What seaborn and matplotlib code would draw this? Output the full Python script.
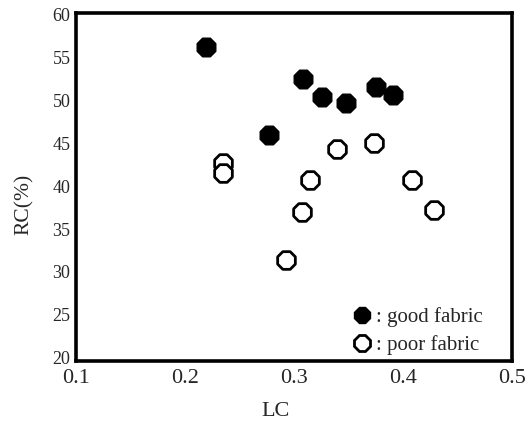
import numpy as np
import pandas as pd
import matplotlib
matplotlib.use("Agg")
import matplotlib.pyplot as plt
import matplotlib.transforms as mtransforms
import seaborn as sns
from matplotlib.lines import Line2D

# --- DATA ---
good_lc = [0.219, 0.277, 0.308, 0.326, 0.348, 0.375, 0.391]
good_rc = [56.5, 46.3, 52.8, 50.7, 50.0, 51.9, 50.9]

poor_lc = [0.235, 0.235, 0.293, 0.307, 0.315, 0.339, 0.373, 0.408, 0.428]
poor_rc = [43.0, 41.9, 31.7, 37.3, 41.0, 44.6, 45.4, 41.1, 37.6]

x_ticks = [0.1, 0.2, 0.3, 0.4, 0.5]
y_ticks = [20, 25, 30, 35, 40, 45, 50, 55, 60]

good = pd.DataFrame({"LC": good_lc, "RC": good_rc})
poor = pd.DataFrame({"LC": poor_lc, "RC": poor_rc})

sns.set_style("white")
plt.rcParams["font.family"] = ["Liberation Serif", "DejaVu Serif"]

fig = plt.figure(figsize=(5.26, 4.23), dpi=100)
ax = fig.add_axes([0.1445, 0.1466, 0.829, 0.8227])

sns.scatterplot(data=good, x="LC", y="RC", ax=ax, marker="8", s=210,
                color="black", edgecolor="black", linewidth=1)
sns.scatterplot(data=poor, x="LC", y="RC", ax=ax, marker="8", s=190,
                facecolor="white", edgecolor="black", linewidth=2)

ax.set_xlim(0.1, 0.5)
ax.set_ylim(20, 60.47)
ax.set_xticks(x_ticks)
ax.set_xticklabels([f"{v:.1f}" for v in x_ticks])
ax.set_yticks(y_ticks)
ax.tick_params(axis="y", direction="in", length=3, width=1.2, labelsize=13, pad=4)
ax.tick_params(axis="x", length=0, labelsize=16, pad=6)
ax.set_xlabel("LC", fontsize=16)
ax.set_ylabel("RC(%)", fontsize=15.5)
ax.xaxis.set_label_coords(0.457, -0.118)
ax.yaxis.set_label_coords(-0.097, 0.45)

# y tick labels sit a little above their ticks in the original
shift = mtransforms.ScaledTranslation(0, 3 / 100, fig.dpi_scale_trans)
for lab in ax.get_yticklabels():
    lab.set_transform(lab.get_transform() + shift)

for sp in ax.spines.values():
    sp.set_linewidth(2.6)
    sp.set_color("black")

handles = [
    Line2D([], [], marker="8", linestyle="none", markersize=13,
           markerfacecolor="black", markeredgecolor="black"),
    Line2D([], [], marker="8", linestyle="none", markersize=12,
           markerfacecolor="white", markeredgecolor="black", markeredgewidth=2),
]
ax.legend(handles, [": good fabric", ": poor fabric"], loc="center left",
          bbox_to_anchor=(0.609, 0.086), frameon=False, fontsize=15,
          borderpad=0, handletextpad=0.15, labelspacing=0.4, handlelength=1.0)

fig.savefig("out.png", dpi=100)
